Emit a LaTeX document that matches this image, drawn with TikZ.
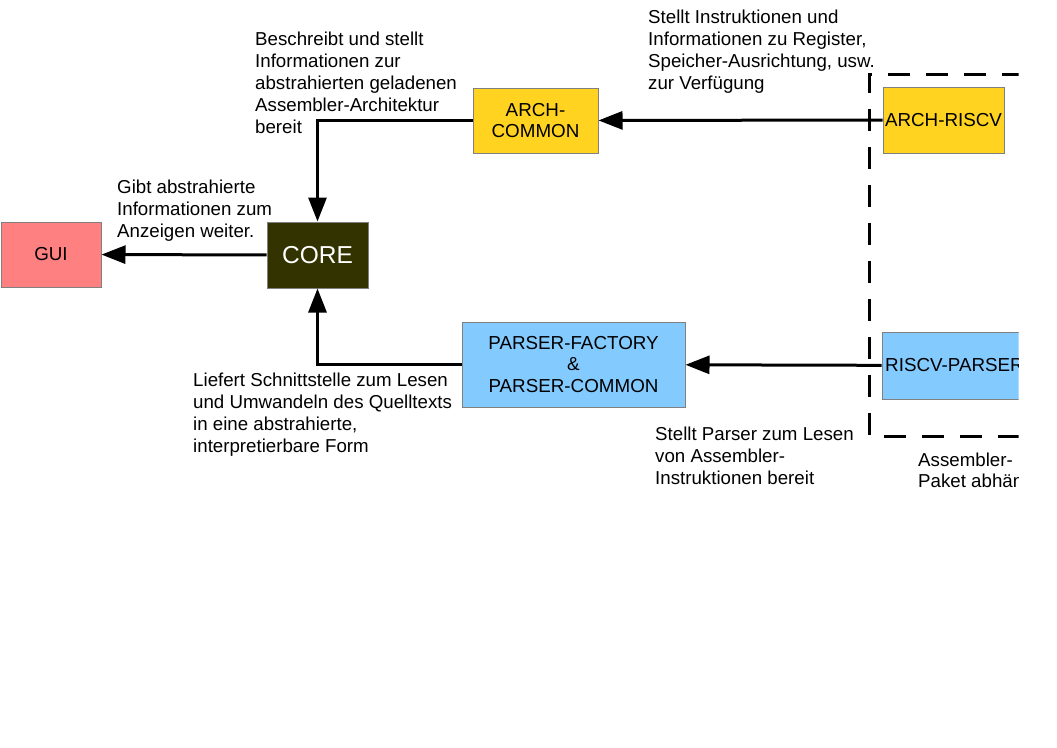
\documentclass[tikz,border=0pt]{standalone}
\usepackage{fontspec}
\setmainfont{Liberation Sans}
\usetikzlibrary{arrows.meta,positioning}

\definecolor{archyellow}{HTML}{FFD320}
\definecolor{parserblue}{HTML}{83CAFF}
\definecolor{guired}{HTML}{FF8080}
\definecolor{coregreen}{HTML}{333300}
\definecolor{boxgray}{HTML}{808080}

\begin{document}
\begin{tikzpicture}[
        x=1pt, y=-1pt,
        boxsty/.style={
            draw=boxgray, line width=1pt, inner sep=0pt, align=center,
            font=\fontsize{18.8}{21.5}\selectfont,
        },
        notesty/.style={
            inner sep=0pt, anchor=north west, align=left,
            font=\fontsize{18.7}{22}\selectfont,
        },
        linesty/.style={
            line width=3pt, -{Triangle[length=24pt,width=18pt]},
        },
        pkgsty/.style={
            line width=3pt, dash pattern=on 22pt off 16pt,
        }
    ]
    \useasboundingbox (0,0) rectangle (1057,747);
    \clip (0,0) rectangle (1018.5,747);

    \node[boxsty, fill=guired, minimum width=100pt, minimum height=65pt] (gui) at (51,254.5) {GUI};
    \node[boxsty, fill=coregreen, text=white, font=\fontsize{24.5}{27}\selectfont,
        minimum width=101pt, minimum height=66pt] (core) at (317.5,255) {CORE};
    \node[boxsty, fill=archyellow, minimum width=125pt, minimum height=65pt] (archcommon) at (535.5,120.5) {ARCH-\\COMMON};
    \node[boxsty, fill=archyellow, minimum width=121pt, minimum height=66pt] (archriscv) at (943.5,120) {ARCH-RISCV};
    \node[boxsty, fill=parserblue, minimum width=223pt, minimum height=85pt] (parser) at (573.5,364.5) {PARSER-FACTORY\\\&\\PARSER-COMMON};
    \node[boxsty, fill=parserblue, minimum width=145pt, minimum height=67pt] (riscvparser) at (954.5,365.5) {RISCV-PARSER};

    % package border
    \draw[pkgsty] (1100,74) -- (869,74) -- (869,436) -- (1100,436);

    \draw[linesty] (archriscv) -- (archcommon);
    \draw[linesty] (archcommon.west) -| (core.north);
    \draw[linesty] (core) -- (gui);
    \draw[linesty] (parser.west) -| (core.south);
    \draw[linesty] (riscvparser) -- (parser);

    \node[notesty] (archnote) at (255,32) {Beschreibt und stellt\\Informationen zur\\abstrahierten geladenen\\Assembler-Architektur\\bereit};
    \node[notesty] (riscvnote) at (648,9.5) {Stellt Instruktionen und\\Informationen zu Register,\\Speicher-Ausrichtung, usw.\\zur Verfügung};
    \node[notesty] (guinote) at (117,179.5) {Gibt abstrahierte\\Informationen zum\\Anzeigen weiter.};
    \node[notesty] (parsernote) at (193,373) {Liefert Schnittstelle zum Lesen\\und Umwandeln des Quelltexts\\in eine abstrahierte,\\interpretierbare Form};
    \node[notesty] (rparsernote) at (655,427) {Stellt Parser zum Lesen\\von Assembler-\\Instruktionen bereit};
    \node[notesty, font=\fontsize{18.7}{20.5}\selectfont] (pkgnote) at (918,453) {Assembler-\\Paket abhängig};
\end{tikzpicture}
\end{document}
